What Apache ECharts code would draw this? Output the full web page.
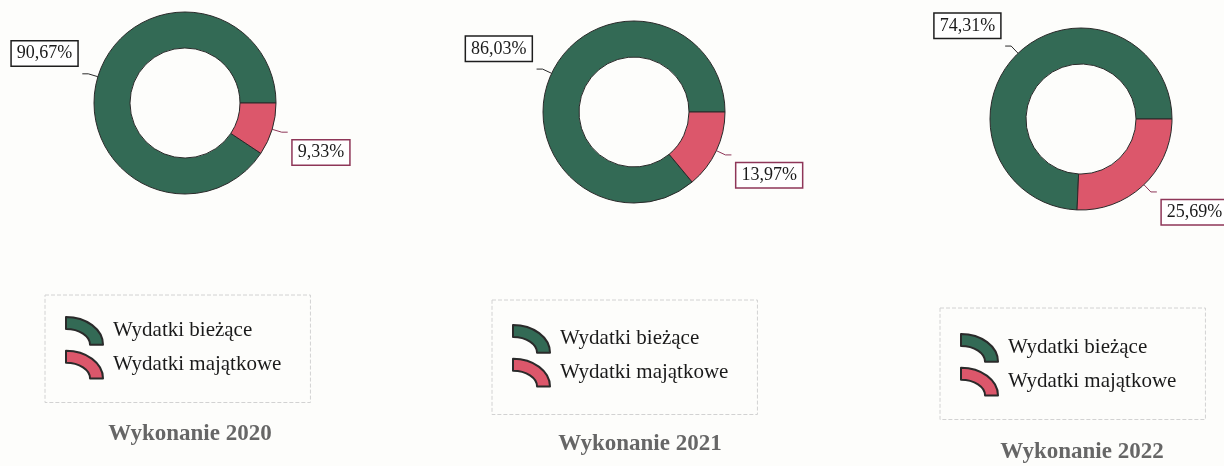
<!DOCTYPE html>
<html>
<head>
<meta charset="utf-8">
<script src="https://cdn.jsdelivr.net/npm/echarts@6/dist/echarts.min.js"></script>
<style>
  html, body { margin: 0; padding: 0; background: #fdfdfb; }
  #main { width: 1224px; height: 466px; }
</style>
</head>
<body>
<div id="main"></div>
<script>
// dane
const categories = ['Wydatki bieżące', 'Wydatki majątkowe']
const years = ['2020', '2021', '2022']
const biezace = [90.67, 86.03, 74.31]
const majatkowe = [9.33, 13.97, 25.69]

const colors = ['#336a55', '#dc576b']
const labelBorders = ['#1e1e1e', '#8e3658']

// polozenie wykresow
const centers = [[185, 103], [634, 112], [1081, 119]]
const legendBox = [[45, 295, 21, 23], [492, 300, 24, 27], [940, 308, 25, 23]]
const titlePos = [[190, 423], [640, 433], [1082, 441]]

const arcIcon = 'path://M0,0 A40,30 0 0 1 40,30 L26,30 A26,17 0 0 0 0,13 Z'
const serif = '"Liberation Serif", "DejaVu Serif", serif'

function fmt(v) {
  return v.toFixed(2).replace('.', ',') + '%'
}

const series = []
const legends = []
const titles = []

years.forEach(function(year, i) {
  series.push({
    name: year,
    type: 'pie',
    radius: [55, 91],
    center: centers[i],
    startAngle: 0,
    clockwise: false,
    avoidLabelOverlap: false,
    itemStyle: {
      borderColor: '#2a2a2a',
      borderWidth: 1
    },
    label: {
      show: true,
      position: 'outside',
      fontFamily: serif,
      fontSize: 18,
      color: '#1a1a1a',
      backgroundColor: '#ffffff',
      borderWidth: 1.5,
      padding: [4, 5, 2, 5],
      formatter: function(p) { return fmt(p.value) }
    },
    labelLine: {
      show: true,
      length: 10,
      length2: 6,
      lineStyle: { width: 1 }
    },
    labelLayout: function(p) {
      const pts = p.labelLinePoints
      if (!pts) return {}
      const up = pts[2][1] < pts[0][1]
      return { dy: (up ? -1 : 1) * p.labelRect.height * 0.75 }
    },
    data: [
      {
        name: categories[0],
        value: biezace[i],
        itemStyle: { color: colors[0] },
        label: { borderColor: labelBorders[0] },
        labelLine: { lineStyle: { color: '#2a2a2a' } }
      },
      {
        name: categories[1],
        value: majatkowe[i],
        itemStyle: { color: colors[1] },
        label: { borderColor: labelBorders[1] },
        labelLine: { lineStyle: { color: labelBorders[1] } }
      }
    ]
  })

  legends.push({
    orient: 'vertical',
    left: legendBox[i][0],
    top: legendBox[i][1],
    padding: [legendBox[i][2], 29, legendBox[i][3], 20],
    itemWidth: 37,
    itemHeight: 28,
    itemGap: 4,
    icon: arcIcon,
    borderColor: '#d2d2d2',
    borderWidth: 1,
    borderType: 'dashed',
    textStyle: {
      fontFamily: serif,
      fontSize: 21,
      color: '#1a1a1a',
      padding: [0, 0, 0, 5]
    },
    data: categories
  })

  titles.push({
    text: 'Wykonanie ' + year,
    left: titlePos[i][0],
    top: titlePos[i][1],
    textAlign: 'center',
    padding: 0,
    textStyle: {
      fontFamily: serif,
      fontWeight: 'bold',
      fontSize: 23,
      color: '#666666'
    }
  })
})

const chart = echarts.init(document.getElementById('main'))
chart.setOption({
  backgroundColor: '#fdfdfb',
  animation: false,
  title: titles,
  legend: legends,
  series: series
})
</script>
</body>
</html>
